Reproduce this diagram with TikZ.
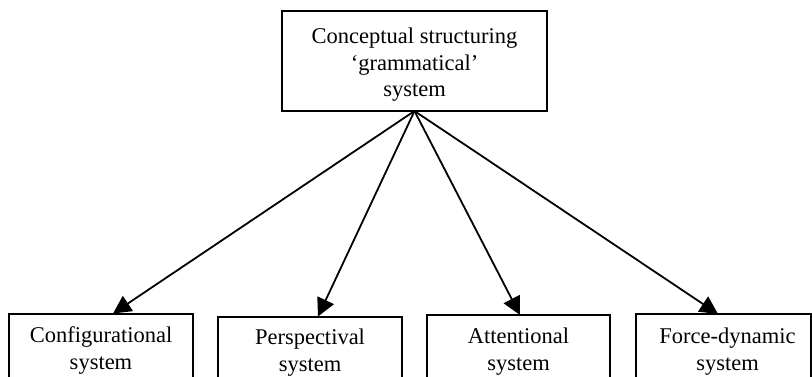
\documentclass[tikz,border=0pt]{standalone}
\usepackage{fontspec}
\setmainfont{Liberation Serif}
\usetikzlibrary{arrows.meta}
\begin{document}
\begin{tikzpicture}[x=1pt,y=-1pt,
  box/.style={draw, line width=2pt, inner sep=0pt, outer sep=0pt},
  lbl/.style={inner sep=0pt, align=center, font=\fontsize{22.5}{26.7}\selectfont},
  arr/.style={line width=1.8pt, -{Triangle[length=18pt,width=18pt]}}]
\useasboundingbox (0,0) rectangle (812,376);
\clip (0,0) rectangle (812,376);
\node[box, minimum width=265pt, minimum height=100pt] (top) at (414.5,61) {};
\node[lbl, anchor=north] (tt) at (414.5,27.6) {Conceptual structuring\\`grammatical'\\system};
\node[box, minimum width=184pt, minimum height=100pt, anchor=north] (b1) at (101,313.5) {};
\node[box, minimum width=184pt, minimum height=100pt, anchor=north] (b2) at (310,316.5) {};
\node[box, minimum width=183pt, minimum height=100pt, anchor=north] (b3) at (518.5,315) {};
\node[box, minimum width=175pt, minimum height=100pt, anchor=north] (b4) at (723.5,314) {};
\node[lbl, anchor=north] (t1) at (101,326.5) {Configurational\\system};
\node[lbl, anchor=north] (t2) at (310,328.5) {Perspectival\\system};
\node[lbl, anchor=north] (t3) at (518.5,327.5) {Attentional\\system};
\node[lbl, anchor=north] (t4) at (727.5,327.5) {Force-dynamic\\system};
\draw[arr] (top.south) -- ([xshift=12pt]b1.north);
\draw[arr] (top.south) -- ([xshift=8pt]b2.north);
\draw[arr] (top.south) -- ([xshift=1.5pt]b3.north);
\draw[arr] (top.south) -- ([xshift=-5.5pt]b4.north);
\end{tikzpicture}
\end{document}
